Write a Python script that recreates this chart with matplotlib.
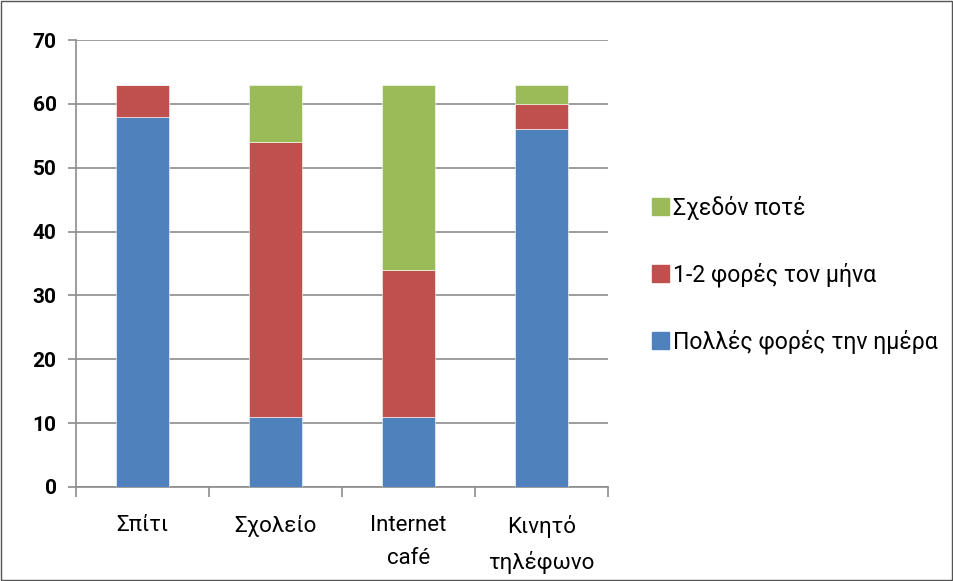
import numpy as np
import matplotlib.pyplot as plt
from matplotlib.patches import Patch, Rectangle

categories = ['Σπίτι', 'Σχολείο', 'Internet\ncafé', 'Κινητό\nτηλέφωνο']
pollés = [58, 11, 11, 56]
mina = [5, 43, 23, 4]
pote = [0, 9, 29, 3]
series_names = ['Πολλές φορές την ημέρα', '1-2 φορές τον μήνα', 'Σχεδόν ποτέ']
colors = ['#4f81bd', '#c0504d', '#9bbb59']

plt.rcParams['font.family'] = ['Roboto', 'DejaVu Sans']

fig = plt.figure(figsize=(9.54, 5.81), dpi=100)
ax = fig.add_axes([76/954, 1-487/581, (608-76)/954, (487-40)/581])

x = np.arange(len(categories))
b1 = np.array(pollés)
b2 = b1 + np.array(mina)
ax.bar(x, pollés, width=0.4, color=colors[0], edgecolor='white', linewidth=0.4, zorder=3)
ax.bar(x, mina, width=0.4, bottom=b1, color=colors[1], edgecolor='white', linewidth=0.4, zorder=3)
ax.bar(x, pote, width=0.4, bottom=b2, color=colors[2], edgecolor='white', linewidth=0.4, zorder=3)

ax.set_xlim(-0.5, 3.5)
ax.set_ylim(0, 70)
ax.set_yticks(range(0, 71, 10))
ax.set_yticklabels([str(v) for v in range(0, 71, 10)], fontsize=15, fontweight='bold')
ax.grid(axis='y', color='#8c8c8c', linewidth=1.2, zorder=0)
ax.set_xticks([-0.5, 0.5, 1.5, 2.5, 3.5])
ax.set_xticklabels([])
ax.set_xticks(x, minor=True)
ax.set_xticklabels(categories, minor=True, fontsize=16, linespacing=1.75)
ax.tick_params(axis='x', which='minor', length=0, pad=20)
ax.tick_params(axis='x', which='major', length=7, color='#8c8c8c', width=1.2)
ax.tick_params(axis='y', length=6, color='#8c8c8c', width=1.2, pad=8)
for s in ['top', 'right']:
    ax.spines[s].set_visible(False)
for s in ['left', 'bottom']:
    ax.spines[s].set_color('#8c8c8c')
    ax.spines[s].set_linewidth(1.2)

handles = [Patch(color=colors[i]) for i in [2, 1, 0]]
labels = [series_names[i] for i in [2, 1, 0]]
fig.legend(handles, labels, loc='center left', bbox_to_anchor=(640/954, 1-275/581),
           frameon=False, fontsize=16.6, handlelength=0.75, handleheight=0.75,
           handletextpad=0.2, labelspacing=1.85, borderpad=0)

fig.patches.append(Rectangle((0.001, 0.001), 0.997, 0.997, transform=fig.transFigure,
                             fill=False, edgecolor='#555555', linewidth=1))

fig.savefig('out.png', dpi=100)
